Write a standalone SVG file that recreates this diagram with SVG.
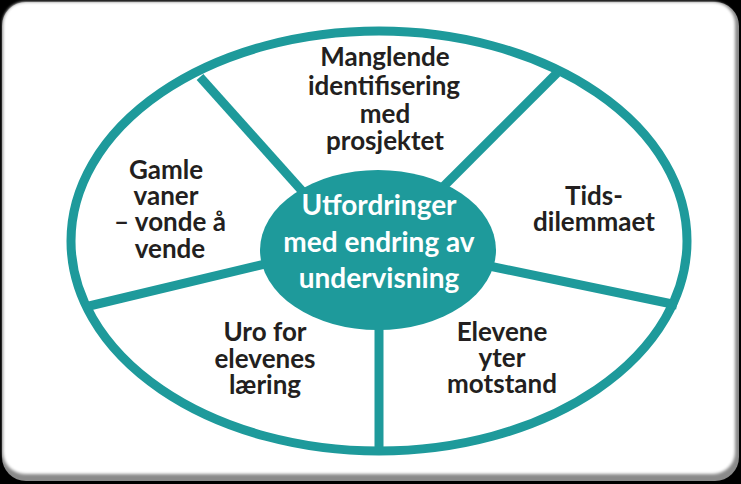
<svg xmlns="http://www.w3.org/2000/svg" width="741" height="484" viewBox="0 0 741 484">
  <defs>
    <filter id="soft" x="-5%" y="-5%" width="110%" height="110%">
      <feGaussianBlur stdDeviation="1.5"/>
    </filter>
    <style>
      .ring { fill: none; stroke: #1e9a9b; stroke-width: 9; }
      .spoke { stroke: #1e9a9b; stroke-width: 9; stroke-linecap: butt; }
      .hub { fill: #1e9a9b; }
      .lbl { font-family: Lato, "Liberation Sans", sans-serif; font-weight: 700; font-size: 26px; fill: #231f20; text-anchor: middle; }
      .hubtxt { font-family: Lato, "Liberation Sans", sans-serif; font-weight: 700; font-size: 28px; fill: #ffffff; text-anchor: middle; }
    </style>
  </defs>

  <!-- frame -->
  <rect x="0" y="0" width="741" height="484" fill="#000000"/>
  <rect x="2" y="2" width="737" height="479" rx="24" fill="#8a8a8a"/>
  <rect x="3" y="2" width="732" height="472" rx="22" fill="#ffffff" filter="url(#soft)"/>

  <!-- outer ring -->
  <ellipse class="ring" cx="379" cy="241" rx="308" ry="210"/>

  <!-- connectors -->
  <g id="spokes">
    <line class="spoke" x1="200" y1="77" x2="320" y2="211"/>
    <line class="spoke" x1="557" y1="73" x2="440" y2="190"/>
    <line class="spoke" x1="677" y1="305" x2="470" y2="262"/>
    <line class="spoke" x1="85" y1="307" x2="290" y2="258"/>
    <line class="spoke" x1="379" y1="451" x2="379" y2="300"/>
  </g>

  <g id="hub">
    <ellipse class="hub" cx="378" cy="250" rx="118" ry="80"/>
    <text class="hubtxt" x="379" y="215">Utfordringer</text>
    <text class="hubtxt" x="379" y="252">med endring av</text>
    <text class="hubtxt" x="379" y="288">undervisning</text>
  </g>

  <g id="node-top">
    <text class="lbl" x="385" y="66">Manglende</text>
    <text class="lbl" x="384" y="95">identifisering</text>
    <text class="lbl" x="385" y="123">med</text>
    <text class="lbl" x="385" y="150">prosjektet</text>
  </g>

  <g id="node-left">
    <text class="lbl" x="166" y="179">Gamle</text>
    <text class="lbl" x="166" y="205">vaner</text>
    <text class="lbl" x="170" y="231">– vonde å</text>
    <text class="lbl" x="170" y="258">vende</text>
  </g>

  <g id="node-right">
    <text class="lbl" x="594" y="205">Tids-</text>
    <text class="lbl" x="594" y="231">dilemmaet</text>
  </g>

  <g id="node-bottom-left">
    <text class="lbl" x="265" y="341">Uro for</text>
    <text class="lbl" x="265" y="368">elevenes</text>
    <text class="lbl" x="265" y="394">læring</text>
  </g>

  <g id="node-bottom-right">
    <text class="lbl" x="502" y="341">Elevene</text>
    <text class="lbl" x="502" y="367">yter</text>
    <text class="lbl" x="502" y="393">motstand</text>
  </g>
</svg>
